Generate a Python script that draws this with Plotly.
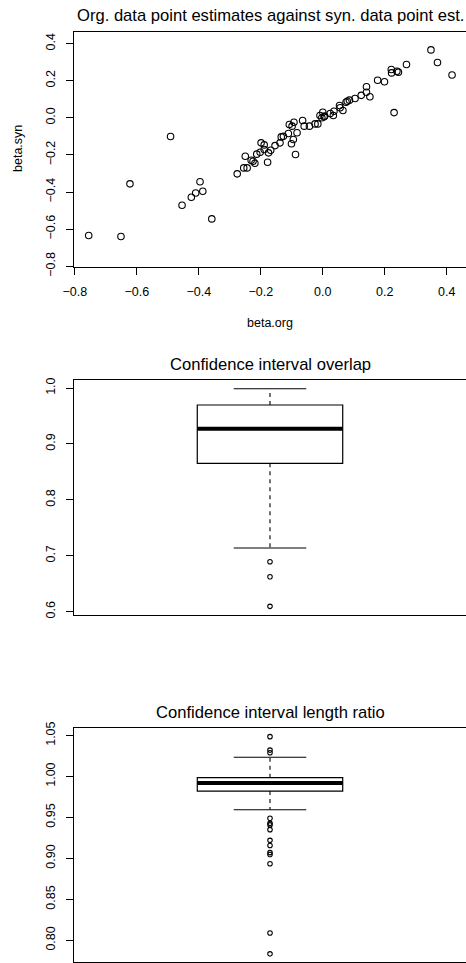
import plotly.graph_objects as go

W, H = 466, 963

# ---------------- data ----------------
beta_org = [-0.755, -0.651, -0.622, -0.491, -0.454, -0.424, -0.410, -0.396, -0.387, -0.358,
            -0.276, -0.250, -0.255, -0.244, -0.231, -0.225, -0.219, -0.213, -0.202, -0.199,
            -0.189, -0.189, -0.178, -0.175, -0.168, -0.154, -0.138, -0.134, -0.127, -0.111,
            -0.108, -0.101, -0.099, -0.095, -0.093, -0.088, -0.083, -0.065, -0.060, -0.043,
            -0.025, -0.016, -0.009, 0.000, -0.003, 0.004, 0.006, 0.024, 0.034, 0.036,
            0.054, 0.056, 0.065, 0.075, 0.079, 0.086, 0.104, 0.124, 0.141, 0.141,
            0.152, 0.177, 0.199, 0.221, 0.222, 0.239, 0.244, 0.230, 0.270, 0.349,
            0.370, 0.417]
beta_syn = [-0.634, -0.640, -0.356, -0.101, -0.471, -0.428, -0.405, -0.345, -0.396, -0.545,
            -0.302, -0.207, -0.270, -0.270, -0.229, -0.234, -0.245, -0.196, -0.186, -0.135,
            -0.146, -0.171, -0.240, -0.189, -0.175, -0.150, -0.135, -0.103, -0.100, -0.085,
            -0.036, -0.140, -0.045, -0.117, -0.024, -0.198, -0.081, -0.015, -0.045, -0.045,
            -0.033, -0.033, 0.012, 0.030, 0.000, 0.005, 0.010, 0.023, 0.012, 0.035,
            0.066, 0.054, 0.039, 0.084, 0.089, 0.095, 0.104, 0.121, 0.167, 0.138,
            0.113, 0.202, 0.194, 0.260, 0.242, 0.251, 0.246, 0.028, 0.287, 0.366,
            0.298, 0.231]

# Confidence interval overlap box stats
ov_lower, ov_q1, ov_median, ov_q3, ov_upper = 0.7138, 0.8653, 0.927, 0.9696, 0.9987
ov_outliers = [0.6893, 0.6625, 0.6095]

# Confidence interval length ratio box stats
lr_lower, lr_q1, lr_median, lr_q3, lr_upper = 0.9594, 0.9822, 0.992, 0.9985, 1.0234
lr_outliers = [1.0486, 1.0322, 1.0290, 0.9490, 0.9428, 0.9409, 0.9351, 0.9220, 0.9157,
               0.9071, 0.9047, 0.8934, 0.8089, 0.7835]

scatter_ticks = [-0.8, -0.6, -0.4, -0.2, 0.0, 0.2, 0.4]
ov_ticks = [0.6, 0.7, 0.8, 0.9, 1.0]
lr_ticks = [0.80, 0.85, 0.90, 0.95, 1.00, 1.05]

titles = ["Org. data point estimates against syn. data point est.",
          "Confidence interval overlap",
          "Confidence interval length ratio"]

# ---------------- styling ----------------
FONT = "Liberation Sans, Arial, Helvetica, sans-serif"
BOX_W = 0.371
CAP_W = 0.185
TICK_SIZE = 12.5
TITLE_SIZE = 16.6


def px(p):
    return p / W


def py(p):
    return 1 - p / H


fig = go.Figure()

# scatter
fig.add_trace(go.Scatter(x=beta_org, y=beta_syn, mode="markers", xaxis="x", yaxis="y",
                         marker=dict(symbol="circle-open", size=6.5, color="black",
                                     line=dict(width=1.1, color="black")),
                         showlegend=False, hoverinfo="skip"))


def add_box(xa, ya, lower, q1, med, q3, upper, outliers):
    fig.add_trace(go.Box(x=[1], q1=[q1], median=[med], q3=[q3], lowerfence=[q1], upperfence=[q3],
                         width=BOX_W, whiskerwidth=0, fillcolor="white",
                         line=dict(color="black", width=1.2), boxpoints=False,
                         xaxis=xa, yaxis=ya, showlegend=False, hoverinfo="skip"))
    # median
    fig.add_trace(go.Scatter(x=[1 - BOX_W / 2, 1 + BOX_W / 2], y=[med, med], mode="lines",
                             line=dict(color="black", width=4), xaxis=xa, yaxis=ya,
                             showlegend=False, hoverinfo="skip"))
    # dashed whiskers
    for a, b in [(q3, upper), (q1, lower)]:
        fig.add_trace(go.Scatter(x=[1, 1], y=[a, b], mode="lines",
                                 line=dict(color="black", width=1.1, dash="4px,4px"),
                                 xaxis=xa, yaxis=ya, showlegend=False, hoverinfo="skip"))
    # caps
    for v in [upper, lower]:
        fig.add_trace(go.Scatter(x=[1 - CAP_W / 2, 1 + CAP_W / 2], y=[v, v], mode="lines",
                                 line=dict(color="black", width=1.1),
                                 xaxis=xa, yaxis=ya, showlegend=False, hoverinfo="skip"))
    # outliers
    fig.add_trace(go.Scatter(x=[1] * len(outliers), y=outliers, mode="markers",
                             marker=dict(symbol="circle-open", size=4.5, color="black",
                                         line=dict(width=1.1, color="black")),
                             xaxis=xa, yaxis=ya, showlegend=False, hoverinfo="skip"))


add_box("x2", "y2", ov_lower, ov_q1, ov_median, ov_q3, ov_upper, ov_outliers)
add_box("x3", "y3", lr_lower, lr_q1, lr_median, lr_q3, lr_upper, lr_outliers)

axis_common = dict(showline=True, mirror=True, linecolor="black", linewidth=1,
                   showgrid=False, zeroline=False, automargin=False,
                   tickfont=dict(family=FONT, size=TICK_SIZE, color="black"))

xdom = [px(74), 1.0]

fig.update_layout(
    width=W, height=H, template="none",
    margin=dict(l=0, r=0, t=0, b=0),
    paper_bgcolor="white", plot_bgcolor="white",
    font=dict(family=FONT, color="black"),
    xaxis=dict(domain=xdom, anchor="y", range=[-0.8025, -0.8025 + 392 / 310],
               tickvals=scatter_ticks, tickformat=".1f",
               ticks="outside", ticklen=7, tickcolor="black", ticklabelstandoff=6,
               **axis_common),
    yaxis=dict(domain=[py(266.7), py(31.6)], anchor="x", range=[-0.8025, 0.4645],
               tickvals=scatter_ticks, tickformat=".1f", tickangle=-90,
               ticks="outside", ticklen=7, tickcolor="black", ticklabelstandoff=6,
               **axis_common),
    xaxis2=dict(domain=xdom, anchor="y2", range=[0.5, 1.5], showticklabels=False, ticks="",
                **axis_common),
    yaxis2=dict(domain=[py(615), py(380)], anchor="x2", range=[0.594, 1.0143],
                tickvals=ov_ticks, tickformat=".1f", tickangle=-90,
                ticks="outside", ticklen=7, tickcolor="black", ticklabelstandoff=6,
                **axis_common),
    xaxis3=dict(domain=xdom, anchor="y3", range=[0.5, 1.5], showticklabels=False, ticks="",
                **axis_common),
    yaxis3=dict(domain=[py(961.7), py(728.3)], anchor="x3", range=[0.7739, 1.0588],
                tickvals=lr_ticks, tickformat=".2f", tickangle=-90,
                ticks="outside", ticklen=7, tickcolor="black", ticklabelstandoff=6,
                **axis_common),
)

annots = [
    dict(text=titles[0], x=px(270), y=py(16), size=TITLE_SIZE, angle=0),
    dict(text=titles[1], x=px(270), y=py(364.3), size=TITLE_SIZE, angle=0),
    dict(text=titles[2], x=px(270), y=py(712.7), size=TITLE_SIZE, angle=0),
    dict(text="beta.org", x=px(270), y=py(323), size=TICK_SIZE, angle=0),
    dict(text="beta.syn", x=px(18), y=py(149), size=TICK_SIZE, angle=-90),
]
for a in annots:
    fig.add_annotation(text=a["text"], x=a["x"], y=a["y"], xref="paper", yref="paper",
                       xanchor="center", yanchor="middle", showarrow=False,
                       textangle=a["angle"],
                       font=dict(family=FONT, size=a["size"], color="black"))

fig.write_html("out.html")
